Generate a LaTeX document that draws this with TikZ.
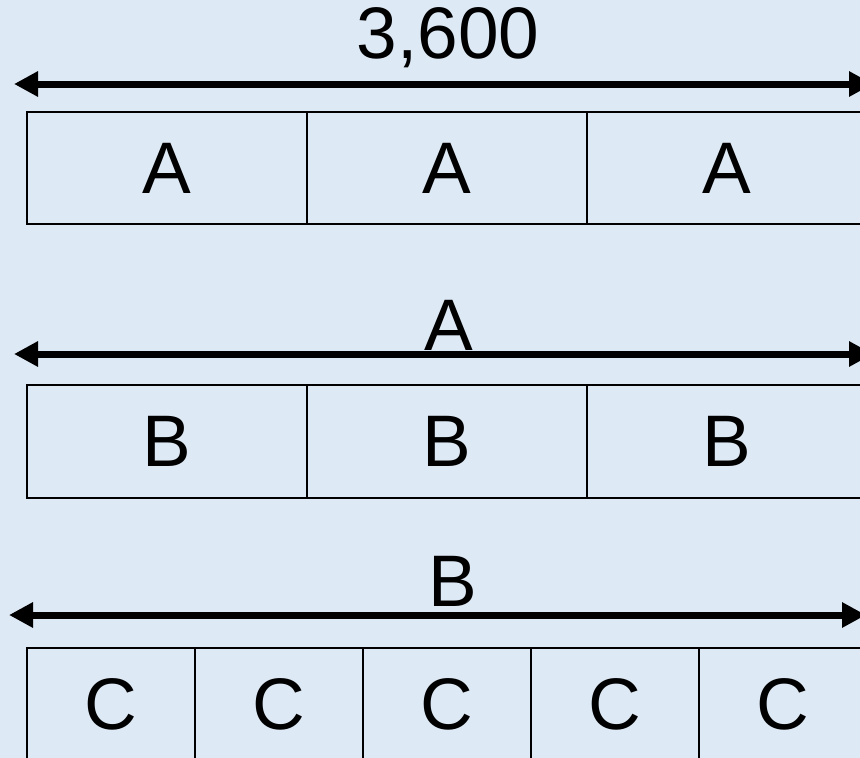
\documentclass[tikz,border=0pt]{standalone}
\usepackage{fontspec}
\setmainfont{Liberation Sans}
\usetikzlibrary{arrows.meta}
\definecolor{bg}{HTML}{DDE9F5}
\tikzset{
  cell/.style={draw=black, line width=2pt, fill=bg, inner sep=0pt, font=\fontsize{73}{73}\selectfont},
  cellA/.style={cell, minimum width=280pt, minimum height=112pt},
  cellB/.style={cell, minimum width=280pt, minimum height=113pt},
  cellC/.style={cell, minimum width=168pt, minimum height=112pt},
  dimarrow/.style={line width=7pt, {Triangle[length=24pt,width=24pt]}-{Triangle[length=24pt,width=24pt]}},
  dimlabel/.style={anchor=base, inner sep=0pt, font=\fontsize{73}{73}\selectfont}
}
\begin{document}
\begin{tikzpicture}[x=1pt,y=-1pt]
\fill[bg] (0,0) rectangle (860,758);
\useasboundingbox (0,0) rectangle (860,758);
% row 1
\node[dimlabel] (t1) at (448,58) {3,600};
\coordinate (l1) at (14,84);
\coordinate (r1) at (873,84);
\draw[dimarrow] (l1) -- (r1);
\node[cellA] (a1) at (167,168) {A};
\node[cellA] (a2) at (447,168) {A};
\node[cellA] (a3) at (727,168) {A};
% row 2
\node[dimlabel] (t2) at (449,350) {A};
\coordinate (l2) at (14,354);
\coordinate (r2) at (873,354);
\draw[dimarrow] (l2) -- (r2);
\node[cellB] (b1) at (167,441.5) {B};
\node[cellB] (b2) at (447,441.5) {B};
\node[cellB] (b3) at (727,441.5) {B};
% row 3
\node[dimlabel] (t3) at (453,606) {B};
\coordinate (l3) at (9,615);
\coordinate (r3) at (866,615);
\draw[dimarrow] (l3) -- (r3);
\node[cellC] (c1) at (111,704) {C};
\node[cellC] (c2) at (279,704) {C};
\node[cellC] (c3) at (447,704) {C};
\node[cellC] (c4) at (615,704) {C};
\node[cellC] (c5) at (783,704) {C};
\end{tikzpicture}
\end{document}
